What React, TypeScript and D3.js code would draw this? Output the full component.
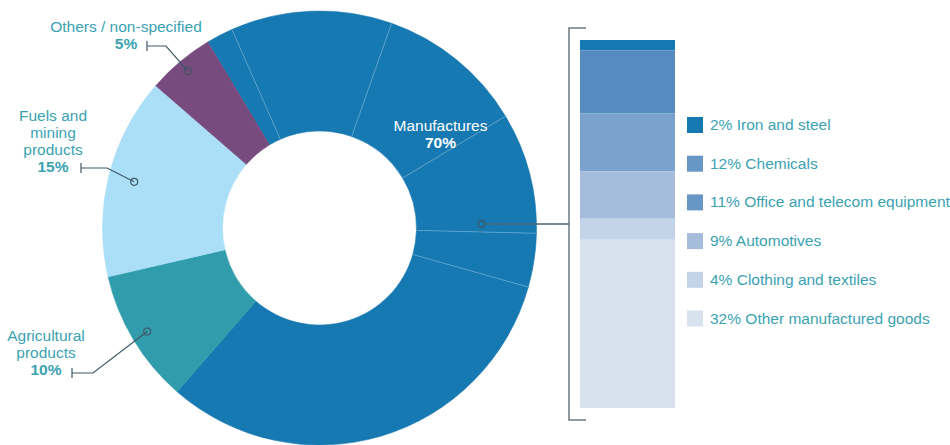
import React, { useEffect, useRef } from 'react';
import * as d3 from 'd3';

// main groups of the donut
const groupNames = ["Manufactures", "Agricultural products", "Fuels and mining products", "Others / non-specified"];
const groupShares = [70, 10, 15, 5];

// breakdown of manufactures
const manufNames = ["Iron and steel", "Chemicals", "Office and telecom equipment", "Automotives", "Clothing and textiles", "Other manufactured goods"];
const manufShares = [2, 12, 11, 9, 4, 32];

const manufBlue = "#1679b2";
const groupColors = [manufBlue, "#319dac", "#abdff8", "#784b7e"];
const subColors = ["#1679b2", "#558bbf", "#7ba2cc", "#a6bcdb", "#c3d3e8", "#d8e2ee"];
const legendColors = ["#1679b2", "#6897c5", "#6897c5", "#a6bcdb", "#c3d3e8", "#d8e2ee"];

const textTeal = "#3aa2b2";
const leaderColor = "#3e5868";
const fontFamily = "'Liberation Sans', Arial, Helvetica, sans-serif";
const fontSize = 15.5;

interface Slice {
  name: string;
  value: number;
  color: string;
  group: number;
}

const App: React.FC = () => {
  const svgRef = useRef<SVGSVGElement>(null);

  useEffect(() => {
    if (!svgRef.current) return;
    const svg = d3.select(svgRef.current);
    svg.selectAll("*").remove();

    const cx = 319.5;
    const cy = 228;
    const outerR = 217;
    const innerR = 97;
    const startAngle = (-31 * Math.PI) / 180;

    // donut slices: manufactures split into its parts, then the other groups
    const slices: Slice[] = [
      ...manufNames.map((n, i) => ({ name: n, value: manufShares[i], color: manufBlue, group: 0 })),
      ...groupNames.slice(1).map((n, i) => ({ name: n, value: groupShares[i + 1], color: groupColors[i + 1], group: i + 1 })),
    ];

    const pie = d3.pie<Slice>()
      .sort(null)
      .value(d => d.value)
      .startAngle(startAngle)
      .endAngle(startAngle + 2 * Math.PI);
    const arcs = pie(slices);

    const arc = d3.arc<d3.PieArcDatum<Slice>>()
      .innerRadius(innerR)
      .outerRadius(outerR);

    const g = svg.append("g").attr("transform", `translate(${cx},${cy})`);

    g.selectAll("path.slice")
      .data(arcs)
      .join("path")
      .attr("class", "slice")
      .attr("d", arc)
      .attr("fill", d => d.data.color)
      .attr("stroke", d => d.data.color)
      .attr("stroke-width", 0.6);

    // thin separators between manufacture parts
    arcs.filter((a, i) => a.data.group === 0 && i > 0).forEach(a => {
      const p0 = d3.pointRadial(a.startAngle, innerR);
      const p1 = d3.pointRadial(a.startAngle, outerR);
      g.append("line")
        .attr("x1", p0[0]).attr("y1", p0[1])
        .attr("x2", p1[0]).attr("y2", p1[1])
        .attr("stroke", "#ffffff")
        .attr("stroke-opacity", 0.35)
        .attr("stroke-width", 0.8);
    });

    // labels inside donut for manufactures
    g.append("text")
      .attr("x", 121).attr("y", -97)
      .attr("text-anchor", "middle")
      .attr("fill", "#ffffff")
      .attr("font-family", fontFamily)
      .attr("font-size", fontSize)
      .text(groupNames[0]);
    g.append("text")
      .attr("x", 121).attr("y", -80)
      .attr("text-anchor", "middle")
      .attr("fill", "#ffffff")
      .attr("font-family", fontFamily)
      .attr("font-size", fontSize)
      .attr("font-weight", "bold")
      .text(`${groupShares[0]}%`);

    // leader annotations for the small groups
    const groupArc = (gi: number) => {
      const parts = arcs.filter(a => a.data.group === gi);
      return (parts[0].startAngle + parts[parts.length - 1].endAngle) / 2;
    };

    const annotations = [
      { group: 3, r: 205, tick: [147, 46], elbow: [166, 46], lines: ["Others / non-specified"], textX: 126, textY: 32 },
      { group: 2, r: 191, tick: [81, 168], elbow: [107, 168], lines: ["Fuels and", "mining", "products"], textX: 53, textY: 121 },
      { group: 1, r: 201, tick: [72, 373], elbow: [93, 373], lines: ["Agricultural", "products"], textX: 46, textY: 341 },
    ];

    annotations.forEach(an => {
      const p = d3.pointRadial(groupArc(an.group), an.r);
      const px = cx + p[0];
      const py = cy + p[1];
      svg.append("path")
        .attr("d", `M${an.tick[0]},${an.tick[1]}L${an.elbow[0]},${an.elbow[1]}L${px},${py}`)
        .attr("fill", "none")
        .attr("stroke", leaderColor)
        .attr("stroke-width", 1.2);
      svg.append("line")
        .attr("x1", an.tick[0]).attr("x2", an.tick[0])
        .attr("y1", an.tick[1] - 5).attr("y2", an.tick[1] + 5)
        .attr("stroke", leaderColor)
        .attr("stroke-width", 1.2);
      svg.append("circle")
        .attr("cx", px).attr("cy", py).attr("r", 3.5)
        .attr("fill", "none")
        .attr("stroke", leaderColor)
        .attr("stroke-width", 1.2);

      an.lines.forEach((ln, i) => {
        svg.append("text")
          .attr("x", an.textX).attr("y", an.textY + i * 17)
          .attr("text-anchor", "middle")
          .attr("fill", textTeal)
          .attr("font-family", fontFamily)
          .attr("font-size", fontSize)
          .text(ln);
      });
      svg.append("text")
        .attr("x", an.textX).attr("y", an.textY + an.lines.length * 17)
        .attr("text-anchor", "middle")
        .attr("fill", textTeal)
        .attr("font-family", fontFamily)
        .attr("font-size", fontSize)
        .attr("font-weight", "bold")
        .text(`${groupShares[an.group]}%`);
    });

    // stacked bar for manufactures breakdown
    const barX = 580;
    const barW = 95;
    const barTop = 40;
    const barBottom = 408;
    const total = d3.sum(manufShares);
    const y = d3.scaleLinear().domain([0, total]).range([barTop, barBottom]);
    const stackStart = d3.cumsum([0, ...manufShares]);

    svg.selectAll("rect.bar")
      .data(manufShares)
      .join("rect")
      .attr("class", "bar")
      .attr("x", barX)
      .attr("width", barW)
      .attr("y", (d, i) => y(stackStart[i]))
      .attr("height", d => y(d) - y(0))
      .attr("fill", (d, i) => subColors[i]);

    // bracket and connector
    const brX = 569;
    const brTop = 28;
    const brBottom = 420;
    const brMid = (brTop + brBottom) / 2;
    svg.append("path")
      .attr("d", `M586,${brTop}H${brX}V${brBottom}H586`)
      .attr("fill", "none")
      .attr("stroke", "#6b7b86")
      .attr("stroke-width", 1.5);
    const mx = cx + 162;
    svg.append("line")
      .attr("x1", mx + 3.5).attr("y1", brMid)
      .attr("x2", brX).attr("y2", brMid)
      .attr("stroke", "#4a6475")
      .attr("stroke-width", 1.5);
    svg.append("circle")
      .attr("cx", mx).attr("cy", brMid).attr("r", 3.5)
      .attr("fill", "none")
      .attr("stroke", leaderColor)
      .attr("stroke-width", 1.3);

    // legend
    const legendX = 687;
    const legendY = d3.scaleLinear().domain([0, 1]).range([117, 155.7]);
    manufNames.forEach((n, i) => {
      svg.append("rect")
        .attr("x", legendX).attr("y", legendY(i))
        .attr("width", 16).attr("height", 16)
        .attr("fill", legendColors[i]);
      svg.append("text")
        .attr("x", legendX + 23).attr("y", legendY(i) + 13)
        .attr("fill", textTeal)
        .attr("font-family", fontFamily)
        .attr("font-size", fontSize)
        .text(`${manufShares[i]}% ${n}`);
    });
  }, []);

  return (
    <div style={{ position: "absolute", left: 0, top: 0 }}>
      <svg ref={svgRef} width={950} height={445} style={{ display: "block", background: "#ffffff" }}></svg>
    </div>
  );
};

export default App;
